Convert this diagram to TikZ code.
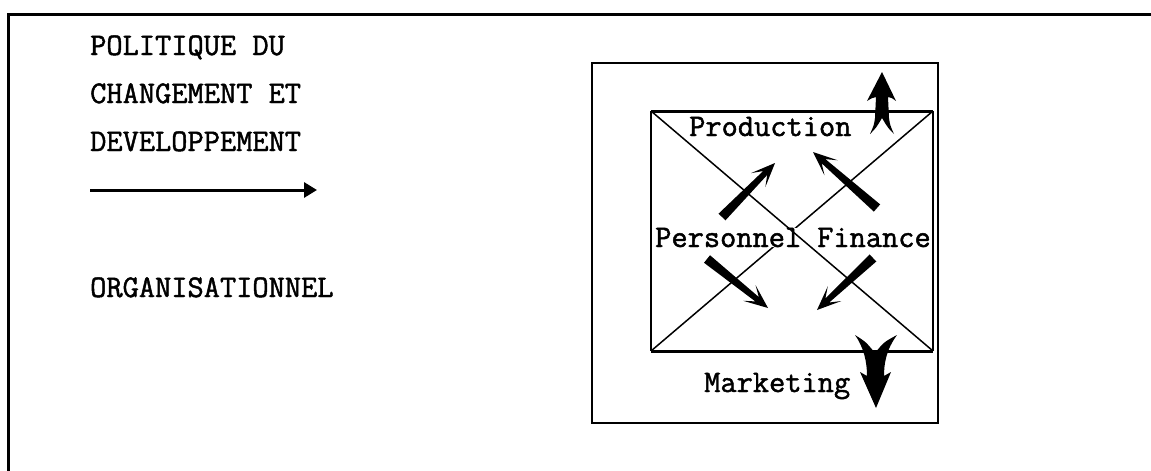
\documentclass[tikz,border=0pt]{standalone}
\usepackage{fontspec}
\newfontfamily\tw[FakeBold=1.5]{Latin Modern Mono}
\usetikzlibrary{calc,arrows.meta}
\newcommand\taparrow[2]{%
  \coordinate (ta-n) at ($(#2)!14pt!(#1)$);
  \coordinate (ta-b) at ($(#2)!24pt!(#1)$);
  \fill ($(#1)!4.8pt!90:(#2)$) -- ($(ta-n)!2.8pt!90:(#2)$) -- ($(ta-b)!10pt!90:(#2)$) -- (#2)
    -- ($(ta-b)!10pt!-90:(#2)$) -- ($(ta-n)!2.8pt!-90:(#2)$) -- ($(#1)!4.8pt!-90:(#2)$) -- cycle;}
\begin{document}
\begin{tikzpicture}[x=1pt,y=-1pt,
  lbl/.style={font=\tw\fontsize{31.5}{31.5}\selectfont,inner sep=0pt,anchor=base west},
  bigarrow/.style={line width=3pt,-{Triangle[length=13pt,width=15pt]}}]
\useasboundingbox (0,0) rectangle (1151,471);
% page frame
\draw[line width=3pt] (8,471) -- (8,14) -- (1151,14);
% left texts
\node[lbl] (t1) at (90,55) {POLITIQUE DU};
\node[lbl] (t2) at (90,103) {CHANGEMENT ET};
\node[lbl] (t3) at (90,151) {DEVELOPPEMENT};
\node[lbl] (t4) at (90,297) {ORGANISATIONNEL};
\coordinate (la) at (90,190);
\coordinate (lb) at (317,190);
\draw[bigarrow] (la) -- (lb);
% outer box
\draw[line width=2pt] (592,63) rectangle (938,423);
% inner rectangle
\coordinate (bl) at (651,351);
\coordinate (br) at (933,351);
\coordinate (tl) at (651,111);
\coordinate (tr) at (933,111);
\draw[line width=1.5pt] (bl) -- (tr);
\node[lbl,fill=white] (pers) at (655,247) {Personnel};
\draw[line width=1.5pt] (tl) -- (br);
\draw[line width=1.5pt] (tl) -- (bl);
\draw[line width=1.5pt] (tr) -- (br);
\draw[line width=3pt] (tl) -- (tr);
\draw[line width=3pt] (bl) -- (br);
\node[lbl] (prod) at (689,136) {Production};
\node[lbl] (fin) at (817,247) {Finance};
\node[lbl] (mark) at (704,392) {Marketing};
% inner arrows
\coordinate (a1) at (722,217); \coordinate (a2) at (775,163);
\coordinate (b1) at (877,208); \coordinate (b2) at (813,152);
\coordinate (c1) at (707,259); \coordinate (c2) at (768,308);
\coordinate (d1) at (873,258); \coordinate (d2) at (817,310);
\taparrow{a1}{a2}
\taparrow{b1}{b2}
\taparrow{c1}{c2}
\taparrow{d1}{d2}
% up arrow
\fill (882,72) -- (896,101) .. controls (892,98) .. (888,97) -- (889,118)
  .. controls (890,125) .. (894,134) .. controls (888,128) .. (882,118)
  .. controls (876,128) .. (870,134) .. controls (874,125) .. (875,118)
  -- (876,97) .. controls (872,98) .. (867,101) -- cycle;
% down arrow
\fill (855,335) .. controls (866,342) .. (875,353) .. controls (884,342) .. (897,335)
  .. controls (886,350) and (884,364) .. (884,376) -- (891,372) -- (876,408)
  -- (860,372) -- (867,376) .. controls (867,362) and (864,348) .. (855,335) -- cycle;
\end{tikzpicture}
\end{document}
